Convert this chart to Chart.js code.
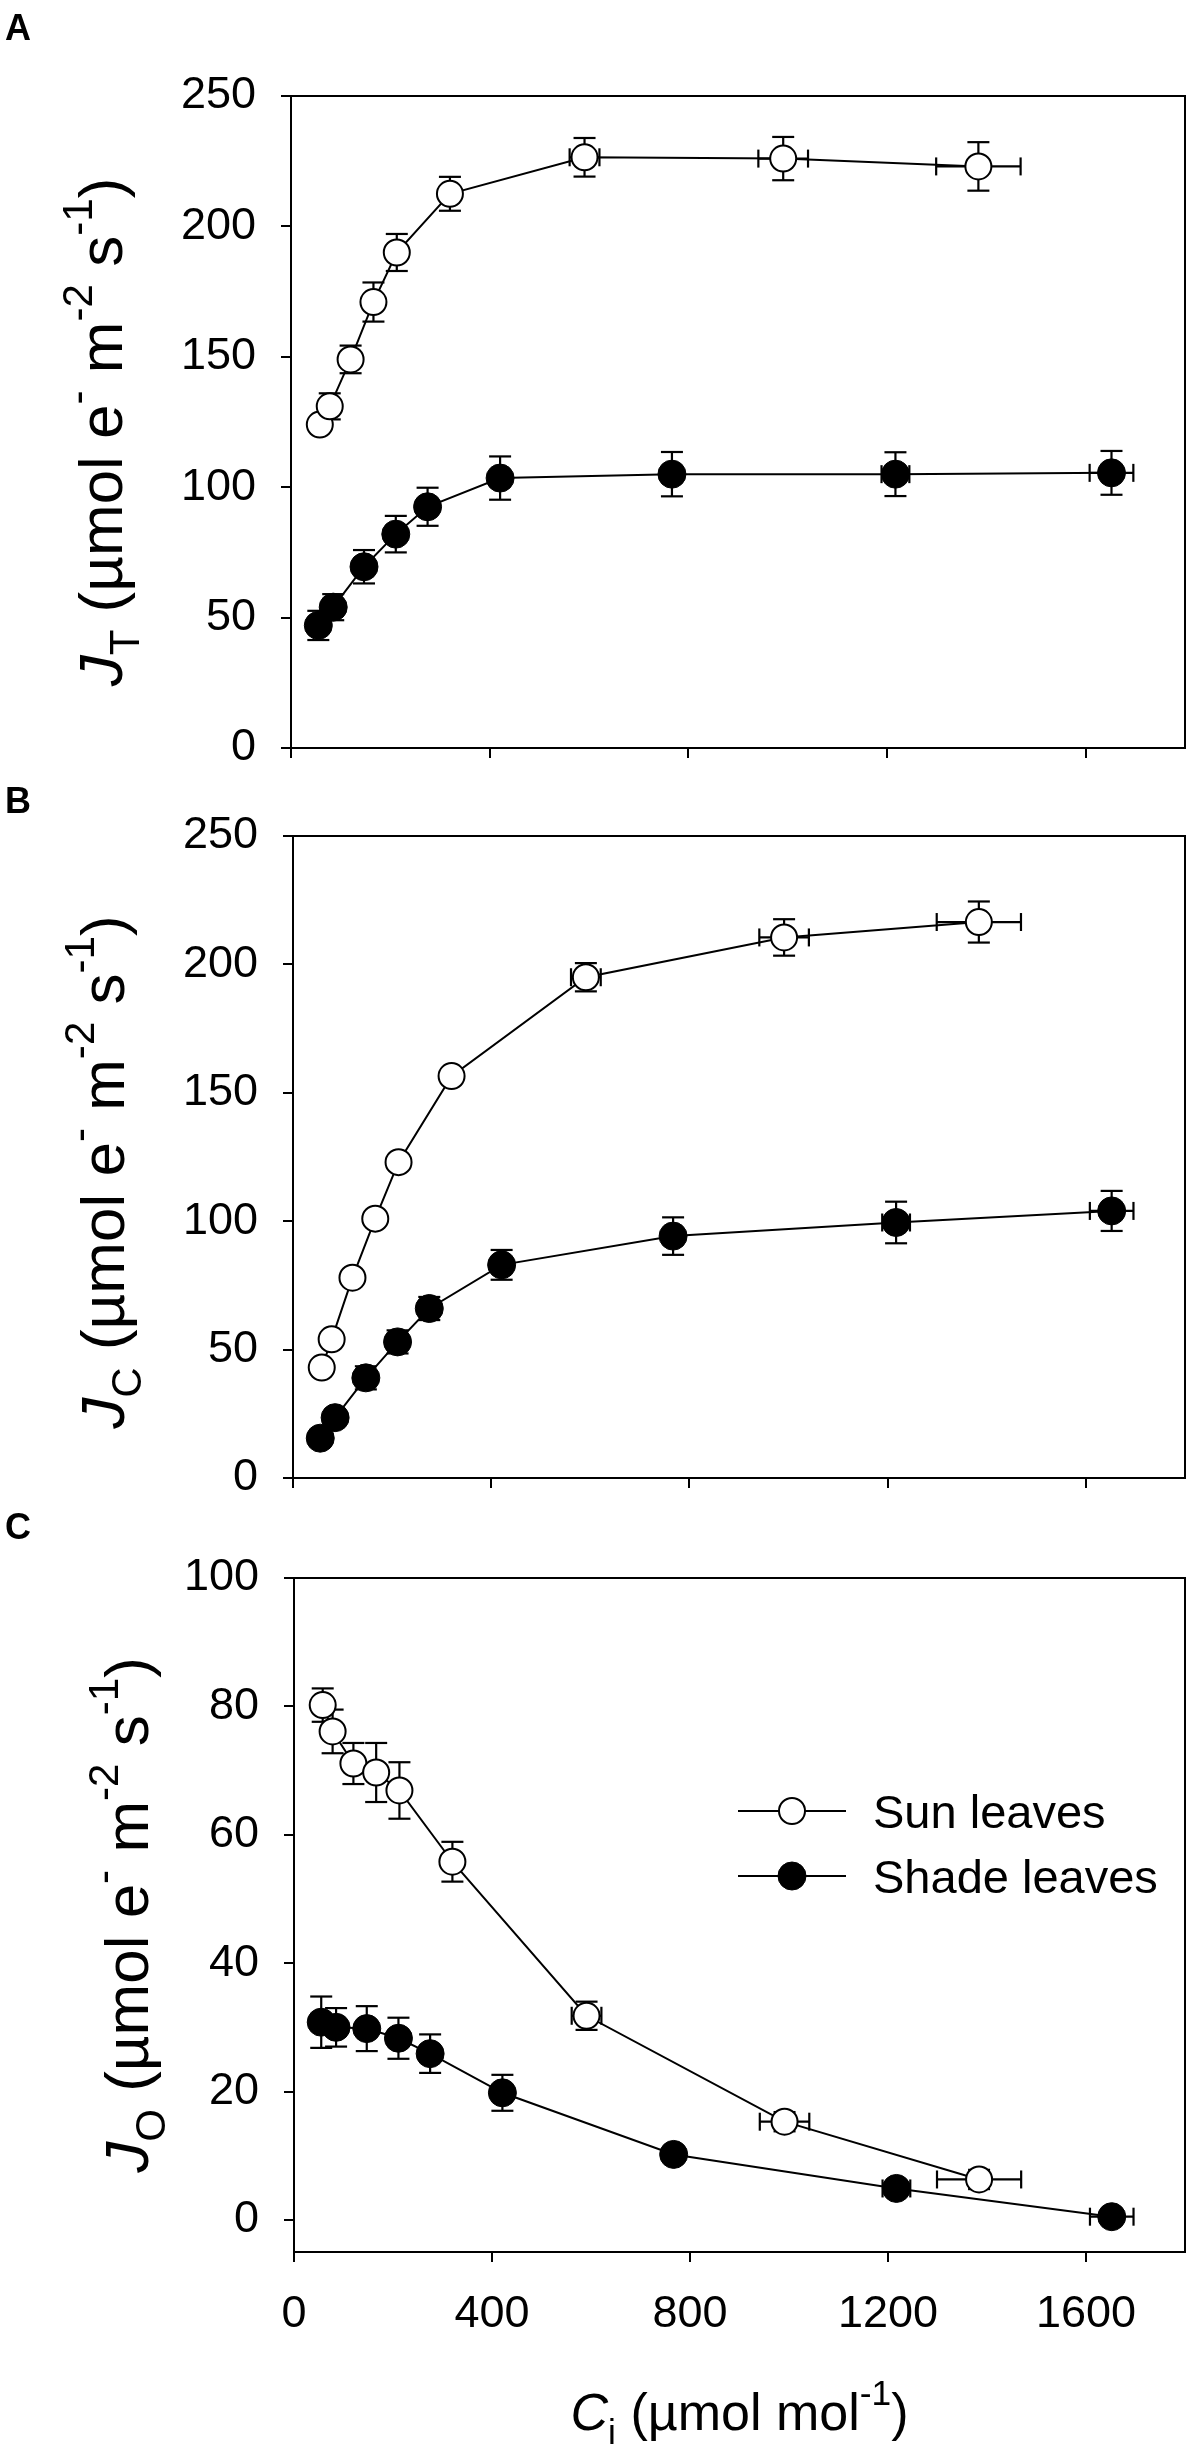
<!DOCTYPE html>
<html>
<head>
<meta charset="utf-8">
<script src="https://cdn.jsdelivr.net/npm/chart.js@4.4.1/dist/chart.umd.min.js"></script>
<style>
html,body{margin:0;padding:0;background:#fff;}
body{width:1200px;height:2454px;position:relative;overflow:hidden;}
.wrap{position:absolute;left:0;width:1200px;}
canvas{display:block;}
</style>
</head>
<body>
<div class="wrap" style="top:0px;height:800px"><canvas id="cA" width="1200" height="800" style="width:1200px;height:800px"></canvas></div>
<div class="wrap" style="top:775px;height:755px"><canvas id="cB" width="1200" height="755" style="width:1200px;height:755px"></canvas></div>
<div class="wrap" style="top:1500px;height:954px"><canvas id="cC" width="1200" height="954" style="width:1200px;height:954px"></canvas></div>
<script>
// ---------------- DATA ----------------
const seriesNames = ['Sun leaves', 'Shade leaves'];
const xTicks = [0, 400, 800, 1200, 1600];
const yTicksAB = [0, 50, 100, 150, 200, 250];
const yTicksC = [0, 20, 40, 60, 80, 100];

// intercellular CO2 (Ci) and its error
const sunCi      = [58, 78, 120, 166, 213, 320, 591, 991, 1384];
const sunCiErr   = [0, 0, 0, 0, 0, 0, 30, 50, 85];
const shadeCi    = [55, 85, 147, 211, 275, 421, 767, 1217, 1652];
const shadeCiErr = [0, 0, 0, 0, 0, 0, 0, 28, 44];

// Panel A: J_T
const sunJT      = [124, 131, 149, 171, 190, 212.5, 226.5, 226, 223];
const sunJTErr   = [2, 5, 5.3, 7.5, 7.1, 6.5, 7.4, 8.3, 9.3];
const shadeJT    = [47, 54, 69.5, 82, 92.5, 103.5, 105, 105, 105.5];
const shadeJTErr = [5.6, 5, 6.4, 7, 7.3, 8.3, 8.5, 8.4, 8.4];

// Panel B: J_C
const sunJC      = [43, 54, 78, 101, 123, 156.5, 195, 210.5, 216.5];
const sunJCErr   = [1, 1, 1, 1, 1, 1, 5.5, 7.1, 8];
const shadeJC    = [15.5, 23.5, 39, 53, 66, 83, 94.2, 99.5, 104];
const shadeJCErr = [3, 3, 4.5, 4.5, 4.5, 5.8, 7.3, 8.1, 7.8];

// Panel C: J_O
const sunJO      = [80.2, 76.1, 71.1, 69.7, 66.9, 55.8, 31.8, 15.3, 6.3];
const sunJOErr   = [2.6, 3.4, 3.2, 4.6, 4.4, 3.1, 2.2, 1.5, 1.5];
const shadeJO    = [30.8, 30.0, 29.8, 28.3, 25.9, 19.8, 10.2, 4.9, 0.5];
const shadeJOErr = [4.0, 3.0, 3.5, 3.2, 3.0, 2.8, 1, 1, 1];

// axis titles (rich text segments)
const titleA = [{t:'J',i:1},{t:'T',sub:1},{t:' (\u00b5mol e'},{t:'-',sup:1},{t:' m'},{t:'-2',sup:1},{t:' s'},{t:'-1',sup:1},{t:')'}];
const titleB = [{t:'J',i:1},{t:'C',sub:1},{t:' (\u00b5mol e'},{t:'-',sup:1},{t:' m'},{t:'-2',sup:1},{t:' s'},{t:'-1',sup:1},{t:')'}];
const titleC = [{t:'J',i:1},{t:'O',sub:1},{t:' (\u00b5mol e'},{t:'-',sup:1},{t:' m'},{t:'-2',sup:1},{t:' s'},{t:'-1',sup:1},{t:')'}];
const titleX = [{t:'C',i:1},{t:'i',sub:1},{t:' (\u00b5mol mol'},{t:'-1',sup:1},{t:')'}];

// ---------------- HELPERS ----------------
const FF = "'Liberation Sans', Arial, Helvetica, sans-serif";
Chart.defaults.font.family = FF;
Chart.defaults.color = '#000';

function segFont(s, size){
  const sz = (s.sub||s.sup) ? size*0.68 : size;
  return (s.i?'italic ':'') + sz + 'px ' + FF;
}
function richWidth(ctx, segs, size){
  let w=0; segs.forEach(s=>{ctx.font=segFont(s,size); w+=ctx.measureText(s.t).width;}); return w;
}
function drawRich(ctx, segs, size, x0){
  let x=x0;
  segs.forEach(s=>{
    ctx.font=segFont(s,size);
    const dy = s.sub ? size*0.27 : (s.sup ? -size*0.48 : 0);
    ctx.fillText(s.t, x, dy);
    x+=ctx.measureText(s.t).width;
  });
}

function pts(xs, xe, ys, ye){ return xs.map((v,k)=>({x:v, y:ys[k], xe:xe[k], ye:ye[k]})); }

const errorBars = {
  id:'errorBars',
  beforeDatasetsDraw(chart){
    const ctx=chart.ctx, xs=chart.scales.x, ys=chart.scales.y;
    ctx.save(); ctx.strokeStyle='#000'; ctx.lineWidth=2.2; ctx.lineCap='butt';
    const L=(a,b,c,d)=>{ctx.beginPath();ctx.moveTo(a,b);ctx.lineTo(c,d);ctx.stroke();};
    chart.data.datasets.forEach(ds=>{
      ds.data.forEach(p=>{
        const px=xs.getPixelForValue(p.x), py=ys.getPixelForValue(p.y);
        if(p.ye){
          const y1=ys.getPixelForValue(p.y+p.ye), y2=ys.getPixelForValue(p.y-p.ye);
          L(px,y1,px,y2); L(px-11,y1,px+11,y1); L(px-11,y2,px+11,y2);
        }
        if(p.xe){
          const x1=xs.getPixelForValue(p.x-p.xe), x2=xs.getPixelForValue(p.x+p.xe);
          L(x1,py,x2,py); L(x1,py-9,x1,py+9); L(x2,py-9,x2,py+9);
        }
      });
    });
    // frame
    const a=chart.chartArea;
    ctx.lineWidth=2;
    ctx.strokeRect(a.left, a.top, a.right-a.left, a.bottom-a.top);
    ctx.restore();
  }
};

const texts = {
  id:'texts',
  afterDraw(chart, args, o){
    const ctx=chart.ctx;
    ctx.save(); ctx.fillStyle='#000'; ctx.textBaseline='alphabetic';
    // panel label
    ctx.font='bold 36px '+FF; ctx.textAlign='left';
    ctx.fillText(o.label, 5, o.labelY);
    // y title
    ctx.save();
    ctx.translate(o.titleX, o.titleCY);
    ctx.rotate(-Math.PI/2);
    ctx.textAlign='left';
    const w=richWidth(ctx, o.title, o.titleSize);
    drawRich(ctx, o.title, o.titleSize, -w/2);
    ctx.restore();
    // x title
    if(o.xTitle){
      ctx.save();
      ctx.translate((chart.chartArea.left+chart.chartArea.right)/2, o.xTitleY);
      ctx.textAlign='left';
      const wx=richWidth(ctx, o.xTitle, o.xTitleSize);
      drawRich(ctx, o.xTitle, o.xTitleSize, -wx/2);
      ctx.restore();
    }
    // legend
    if(o.legend){
      const lg=o.legend;
      chart.data.datasets.forEach((ds,k)=>{
        const yy=lg.y+k*lg.dy;
        ctx.strokeStyle='#000'; ctx.lineWidth=2;
        ctx.beginPath(); ctx.moveTo(lg.x1,yy); ctx.lineTo(lg.x2,yy); ctx.stroke();
        ctx.beginPath(); ctx.arc((lg.x1+lg.x2)/2, yy, ds.pointRadius, 0, Math.PI*2);
        ctx.fillStyle=ds.pointBackgroundColor; ctx.fill();
        ctx.lineWidth=ds.pointBorderWidth; ctx.stroke();
        ctx.fillStyle='#000'; ctx.font=lg.size+'px '+FF; ctx.textAlign='left';
        ctx.fillText(ds.label, lg.tx, yy+lg.size*0.36);
      });
    }
    ctx.restore();
  }
};

function makePanel(id, cfg){
  const sunDs = {
    label: seriesNames[0], data: pts(sunCi, sunCiErr, cfg.sun, cfg.sunErr),
    showLine:true, borderColor:'#000', borderWidth:2,
    pointRadius:13, pointBackgroundColor:'#fff', pointBorderColor:'#000', pointBorderWidth:2,
    pointHoverRadius:13, clip:false, order:1
  };
  const shadeDs = {
    label: seriesNames[1], data: pts(shadeCi, shadeCiErr, cfg.shade, cfg.shadeErr),
    showLine:true, borderColor:'#000', borderWidth:2,
    pointRadius:14, pointBackgroundColor:'#000', pointBorderColor:'#000', pointBorderWidth:1,
    pointHoverRadius:14, clip:false, order:2
  };
  return new Chart(document.getElementById(id), {
    type:'scatter',
    data:{datasets:[sunDs, shadeDs]},
    options:{
      responsive:false, animation:false, devicePixelRatio:1,
      layout:{padding:cfg.pad},
      events:[],
      plugins:{legend:{display:false}, tooltip:{enabled:false}, texts:cfg.texts},
      scales:{
        x:{
          type:'linear', min:0, max:1800,
          afterBuildTicks:s=>{s.ticks=xTicks.map(v=>({value:v}));},
          afterFit:s=>{s.height=cfg.xH;},
          border:{display:false},
          grid:{drawOnChartArea:false, drawTicks:true, tickLength:10, color:'#000', lineWidth:2},
          ticks:{display:cfg.xLabels, font:{size:45}, color:'#000', padding:26, maxRotation:0,
                 callback:v=>String(v)}
        },
        y:{
          type:'linear', min:cfg.ymin, max:cfg.ymax,
          afterBuildTicks:s=>{s.ticks=cfg.yTicks.map(v=>({value:v}));},
          afterFit:s=>{s.width=cfg.yW;},
          border:{display:false},
          grid:{drawOnChartArea:false, drawTicks:true, tickLength:10, color:'#000', lineWidth:2},
          ticks:{font:{size:45}, color:'#000', padding:25, callback:v=>String(v)}
        }
      }
    },
    plugins:[errorBars, texts]
  });
}

makePanel('cA', {
  sun:sunJT, sunErr:sunJTErr, shade:shadeJT, shadeErr:shadeJTErr,
  ymin:0, ymax:250, yTicks:yTicksAB, xLabels:false,
  pad:{top:96, left:0, right:10, bottom:21}, xH:10, yW:291,
  texts:{label:'A', labelY:40, title:titleA, titleSize:62, titleX:122, titleCY:432}
});
makePanel('cB', {
  sun:sunJC, sunErr:sunJCErr, shade:shadeJC, shadeErr:shadeJCErr,
  ymin:0, ymax:250, yTicks:yTicksAB, xLabels:false,
  pad:{top:61, left:0, right:6, bottom:12}, xH:10, yW:293,
  texts:{label:'B', labelY:38, title:titleB, titleSize:62, titleX:124, titleCY:1172-775}
});
makePanel('cC', {
  sun:sunJO, sunErr:sunJOErr, shade:shadeJO, shadeErr:shadeJOErr,
  ymin:-5, ymax:100, yTicks:yTicksC, xLabels:true,
  pad:{top:78, left:0, right:5, bottom:0}, xH:202, yW:294,
  texts:{label:'C', labelY:39, title:titleC, titleSize:62, titleX:148, titleCY:1915-1500,
    xTitle:titleX, xTitleSize:52, xTitleY:2430-1500,
    legend:{x1:738, x2:846, y:1811-1500, dy:65, tx:873, size:47}}
});
</script>
</body>
</html>
